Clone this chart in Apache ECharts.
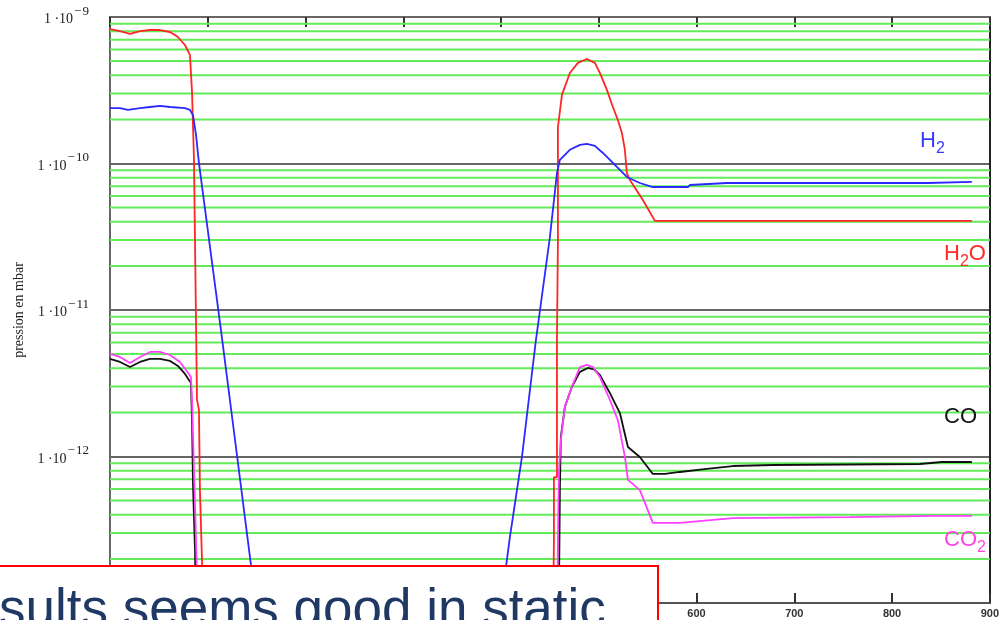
<!DOCTYPE html>
<html><head><meta charset="utf-8">
<script src="https://cdn.jsdelivr.net/npm/echarts@6/dist/echarts.min.js"></script>
<style>html,body{margin:0;padding:0;background:#fff}#c{width:1002px;height:620px}</style>
</head><body><div id="c"></div>
<script>
// ---- axis data ----
const xMin = 0, xMax = 900, xStep = 100;
const yMin = 1e-13, yMax = 1e-9;
const decadeExps = [-13, -12, -11, -10];
const minorSteps = [2, 3, 4, 5, 6, 7, 8, 9];

// ---- series values: [time, pressure in mbar] ----
const h2o = [
  [0, 8.28e-10], [10.2, 8.02e-10], [20.5, 7.66e-10], [30.7, 8.02e-10], [40.9, 8.15e-10],
  [51.1, 8.15e-10], [61.4, 7.9e-10], [69.5, 7.3e-10], [76.7, 6.44e-10], [81.8, 5.5e-10],
  [82.8, 5.33e-10], [83.9, 3.07e-10], [85.9, 1.06e-10], [89.0, 2.43e-12], [91.0, 2.08e-12],
  [92.0, 5.9e-13], [94.1, 1.97e-13], [96.1, 5e-14], null,
  [453, 5e-14], [454.1, 2.69e-13], [454.1, 7.24e-13], [457.2, 7.24e-13], [457.2, 6.24e-12],
  [458.2, 3.01e-11], [458.2, 1.77e-10], [462.3, 2.94e-10], [470.4, 4.15e-10], [478.6, 4.86e-10],
  [487.8, 5.17e-10], [496, 4.86e-10], [501.1, 4.15e-10], [508.3, 3.18e-10], [514.4, 2.43e-10],
  [519.5, 1.98e-10], [523.6, 1.62e-10], [526.7, 1.24e-10], [528.7, 8.6e-11], [531.8, 7.71e-11],
  [545.1, 5.63e-11], [557.4, 4.06e-11], [881.6, 4.06e-11]
];
const h2 = [
  [0, 2.39e-10], [10.2, 2.39e-10], [18.4, 2.32e-10], [30.7, 2.39e-10], [40.9, 2.43e-10],
  [51.1, 2.47e-10], [61.4, 2.43e-10], [76.7, 2.39e-10], [81.8, 2.32e-10], [84.9, 2.14e-10],
  [88.0, 1.57e-10], [91.0, 1.007e-10], [113.5, 7.3e-12], [129.9, 1.02e-12], [144.2, 1.82e-13],
  [149.3, 1e-13], [153.4, 6e-14], null,
  [395.8, 6e-14], [409.1, 2.83e-13], [421.4, 9.93e-13], [435.7, 6.24e-12], [450, 3.15e-11],
  [457.2, 8.6e-11], [460.2, 1.06e-10], [470.4, 1.24e-10], [480.7, 1.34e-10], [487.8, 1.36e-10],
  [496, 1.32e-10], [504.2, 1.18e-10], [511.4, 1.06e-10], [518.5, 9.47e-11], [528.7, 8.09e-11],
  [542, 7.36e-11], [555.3, 6.91e-11], [591.1, 6.91e-11], [593.2, 7.13e-11], [631, 7.36e-11],
  [836.6, 7.36e-11], [838.6, 7.48e-11], [881.6, 7.48e-11]
];
const co = [
  [0, 4.64e-12], [10.2, 4.42e-12], [20.5, 4.08e-12], [30.7, 4.42e-12], [40.9, 4.64e-12],
  [51.1, 4.64e-12], [61.4, 4.49e-12], [69.5, 4.15e-12], [76.7, 3.66e-12], [82.8, 3.18e-12],
  [83.9, 1.77e-12], [84.9, 6.38e-13], [87.0, 2.23e-13], [88.0, 5e-14], null,
  [457.2, 5e-14], [459.2, 1e-13], [460.2, 5.9e-13], [461.2, 1.36e-12], [465.3, 2.18e-12],
  [472.4, 2.98e-12], [480.7, 3.78e-12], [488.9, 4.02e-12], [495, 3.94e-12], [501.1, 3.6e-12],
  [511.4, 2.71e-12], [521.6, 1.98e-12], [529.8, 1.16e-12], [542, 9.93e-13], [555.3, 7.6e-13],
  [567.6, 7.6e-13], [582.9, 7.84e-13], [610.5, 8.22e-13], [637.1, 8.61e-13], [678, 8.75e-13],
  [828.4, 8.89e-13], [850.9, 9.17e-13], [881.6, 9.17e-13]
];
const co2 = [
  [0, 5.01e-12], [10.2, 4.78e-12], [20.5, 4.35e-12], [30.7, 4.78e-12], [40.9, 5.17e-12],
  [51.1, 5.17e-12], [61.4, 4.93e-12], [71.6, 4.42e-12], [77.7, 3.89e-12], [82.8, 3.49e-12],
  [83.9, 2.43e-12], [85.9, 8.09e-13], [88.0, 2.69e-13], [89.0, 1.44e-13], [90.0, 5e-14], null,
  [457.2, 5e-14], [458.2, 2.69e-13], [459.2, 7.71e-13], [461.2, 1.3e-12], [465.3, 2.18e-12],
  [472.4, 2.98e-12], [480.7, 4.08e-12], [487.8, 4.22e-12], [494, 4.08e-12], [501.1, 3.49e-12],
  [511.4, 2.43e-12], [519.5, 1.77e-12], [526.7, 9.93e-13], [529.8, 6.92e-13], [542, 5.9e-13],
  [555.3, 3.52e-13], [582.9, 3.52e-13], [637.1, 3.8e-13], [756.8, 3.86e-13], [841.7, 3.93e-13],
  [881.6, 3.93e-13]
];

const minorValues = [];
decadeExps.forEach(e => minorSteps.forEach(m => minorValues.push(m * Math.pow(10, e))));

const chart = echarts.init(document.getElementById('c'), null, {renderer: 'canvas'});

const supMinus = '\u2212';
function lineSeries(name, data, color, z) {
  return {
    name, type: 'line', data, connectNulls: false, showSymbol: false, symbol: 'none',
    lineStyle: {color, width: 1.8}, itemStyle: {color}, z, clip: true, animation: false
  };
}

function labelGraphic(parts, color, x, y) {
  return {
    type: 'text', x, y, z: 50,
    style: {
      text: parts, verticalAlign: 'top', align: 'left',
      rich: {
        m: {fontSize: 22, fontFamily: 'Liberation Sans', fill: color, color, padding: [0, 0, 6, 0]},
        s: {fontSize: 16, fontFamily: 'Liberation Sans', fill: color, color, padding: [10, 0, 0, 0]}
      }
    }
  };
}

// minor log grid lines: one horizontal two-point line series per value, spanning the x range
const minorSeries = minorValues.map(v => ({
  type: 'line', data: [[xMin, v], [xMax, v]], z: 1, silent: true, animation: false,
  showSymbol: false, symbol: 'none', clip: true,
  lineStyle: {color: '#62ec58', width: 2}, tooltip: {show: false}
}));

chart.setOption({
  animation: false,
  backgroundColor: '#ffffff',
  grid: {left: 110, right: 12, top: 17, bottom: 17, containLabel: false},
  xAxis: [{
    type: 'value', min: xMin, max: xMax, interval: xStep, position: 'bottom',
    axisLine: {show: true, onZero: false, lineStyle: {color: '#555', width: 2}},
    axisTick: {show: true, inside: true, length: 10, lineStyle: {color: '#333', width: 2}},
    axisLabel: {show: true, margin: 5, fontSize: 11, fontWeight: 'bold', fontFamily: 'Liberation Sans', color: '#333'},
    splitLine: {show: false}
  }, {
    type: 'value', min: xMin, max: xMax, interval: xStep, position: 'top',
    axisLine: {show: true, onZero: false, lineStyle: {color: '#666', width: 2}},
    axisTick: {show: true, inside: true, length: 10, lineStyle: {color: '#333', width: 2}},
    axisLabel: {show: false}, splitLine: {show: false}
  }],
  yAxis: [{
    type: 'log', logBase: 10, min: yMin, max: yMax, interval: 1, position: 'left',
    name: 'pression en mbar', nameLocation: 'middle', nameGap: 82,
    nameTextStyle: {fontSize: 14, fontFamily: 'Liberation Serif', color: '#222'},
    axisLine: {show: true, onZero: false, lineStyle: {color: '#666', width: 2}},
    axisTick: {show: false},
    axisLabel: {
      show: true, margin: 21,
      formatter: v => {
        const e = Math.round(Math.log10(v));
        return '{b|1 \u00b710}{s|' + supMinus + '\u200a' + (-e) + '}';
      },
      rich: {
        b: {fontSize: 14, fontFamily: 'Liberation Serif', color: '#222', padding: [5, 0, 0, 0]},
        s: {fontSize: 13, fontFamily: 'Liberation Serif', color: '#222', padding: [0, 0, 11, 1]}
      }
    },
    splitLine: {show: true, lineStyle: {color: '#666', width: 2}}
  }, {
    type: 'log', logBase: 10, min: yMin, max: yMax, interval: 1, position: 'right',
    axisLine: {show: true, onZero: false, lineStyle: {color: '#222', width: 2}},
    axisTick: {show: false}, axisLabel: {show: false}, splitLine: {show: false}
  }],
  series: minorSeries.concat([
    lineSeries('H2O', h2o, '#ff2626', 3),
    lineSeries('H2', h2, '#2a2aff', 4),
    lineSeries('CO', co, '#111111', 5),
    lineSeries('CO2', co2, '#ff40ff', 6)
  ]),
  graphic: [
    labelGraphic('{m|H}{s|2}', '#3a3aff', 920, 130),
    labelGraphic('{m|H}{s|2}{m|O}', '#ff2a2a', 944, 243),
    labelGraphic('{m|CO}', '#111111', 944, 406),
    labelGraphic('{m|CO}{s|2}', '#ff44dd', 944, 529),
    {
      type: 'rect', z: 100,
      shape: {x: -4, y: 566, width: 662, height: 60},
      style: {fill: '#ffffff', stroke: '#ff0000', lineWidth: 2}
    },
    {
      type: 'text', z: 101, x: -1, y: 611,
      style: {text: 'sults seems good in static', font: '53px "Liberation Sans"', fill: '#1f3864', verticalAlign: 'middle', align: 'left'}
    }
  ]
});
</script></body></html>
